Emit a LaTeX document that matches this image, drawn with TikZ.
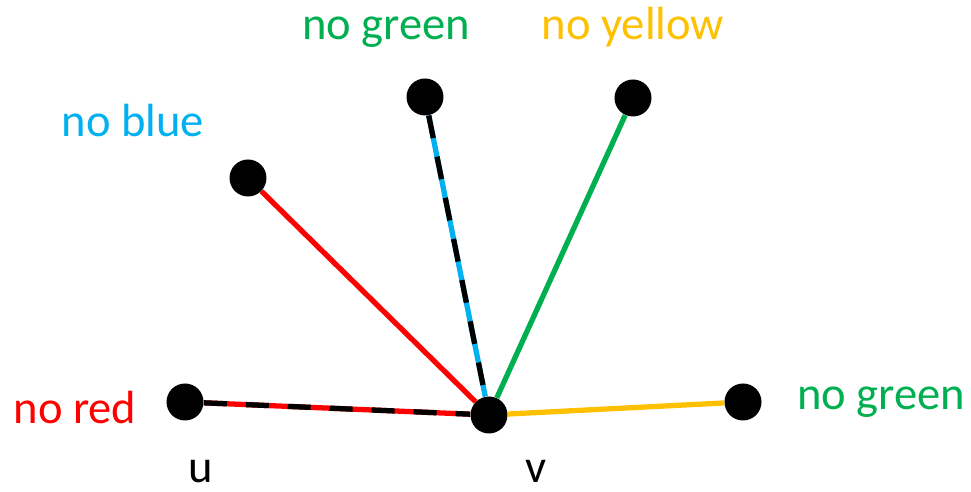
\documentclass[tikz,border=0pt]{standalone}
\usepackage{fontspec}
\setmainfont{Carlito}
\usepackage{tikz}
\usetikzlibrary{positioning}
\definecolor{offred}   {HTML}{FF0000}
\definecolor{offgreen} {HTML}{00B050}
\definecolor{offyellow}{HTML}{FFC000}
\definecolor{offblue}  {HTML}{00B0F0}

\begin{document}
\begin{tikzpicture}[
  vert/.style={circle,fill=black,draw=none,minimum size=0.74cm,inner sep=0pt},
  edge/.style={line width=3pt},
  dashover/.style={line width=3pt,black,dash pattern=on 0.46cm off 0.38cm},
  lbl/.style={anchor=base,inner sep=0pt,font=\fontsize{26.5}{30}\selectfont},
  x=0.02cm,y=-0.02cm
]
\useasboundingbox (0,0) rectangle (971,492);
% Vertices
\node[vert] (u)  at (185,402) {};
\node[vert] (v)  at (489,415) {};
\node[vert] (a)  at (248,178) {};
\node[vert] (b)  at (425,97)  {};
\node[vert] (c)  at (633,98)  {};
\node[vert] (d)  at (743,402) {};
% Edges
\draw[edge,offred]    (a) -- (v);
\draw[edge,offgreen]  (c) -- (v);
\draw[edge,offyellow] (d) -- (v);
\draw[edge,offred]    (u) -- (v);
\draw[dashover]       (u) -- (v);
\draw[edge,offblue]   (b) -- (v);
\draw[dashover]       (b) -- (v);
% Labels
\node[lbl,text=offred]    (lred)    at (75,424)  {no red};
\node[lbl]                (lu)      at (201,483) {u};
\node[lbl]                (lv)      at (536,483) {v};
\node[lbl,text=offblue]   (lblue)   at (133,137) {no blue};
\node[lbl,text=offgreen]  (lgreen)  at (386,40)  {no green};
\node[lbl,text=offyellow] (lyellow) at (633,40)  {no yellow};
\node[lbl,text=offgreen]  (lgreen2) at (881,410) {no green};
\end{tikzpicture}
\end{document}
